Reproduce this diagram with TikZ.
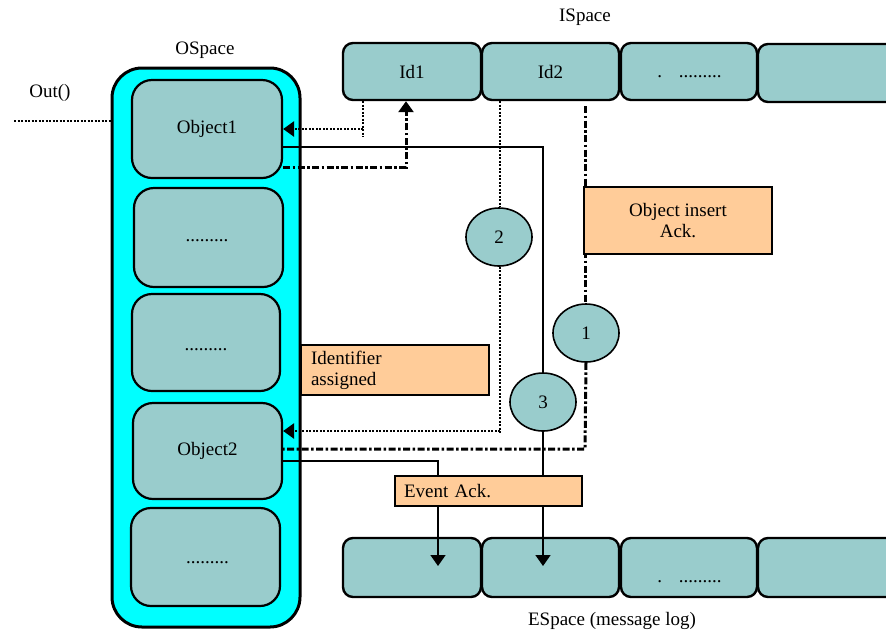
\documentclass[tikz,border=0pt]{standalone}
\usepackage{fontspec}
\setmainfont{Liberation Serif}
\usetikzlibrary{shapes.geometric,arrows.meta}
\definecolor{tealfill}{HTML}{99CCCC}
\definecolor{cyanfill}{HTML}{00FFFF}
\definecolor{orangefill}{HTML}{FFCC99}
\tikzset{
  every node/.style={font=\fontsize{19}{21}\selectfont},
  spacebox/.style={draw, line width=2.4pt, fill=tealfill, rounded corners=10pt, inner sep=0pt},
  objbox/.style={draw, line width=2.2pt, fill=tealfill, rounded corners=20pt, inner sep=0pt},
  numcirc/.style={ellipse, draw, line width=1.6pt, fill=tealfill, minimum width=66pt, minimum height=58pt, inner sep=0pt},
  notebox/.style={draw, line width=1.8pt, fill=orangefill, inner sep=0pt},
  lbl/.style={inner sep=0pt, anchor=base},
  dotl/.style={line width=2.6pt, dash pattern=on 2pt off 1.5pt},
  dashdotl/.style={line width=3pt, dash pattern=on 7pt off 2.5pt on 2.5pt off 2.5pt},
  conn/.style={line width=1.6pt},
  tipend/.style={-{Triangle[width=15pt,length=11pt]}},
}
\begin{document}
\begin{tikzpicture}[x=1pt,y=-1pt]
\useasboundingbox (0,0) rectangle (886,633);

% OSpace container
\node[draw, line width=3pt, fill=cyanfill, rounded corners=30pt, minimum width=188pt, minimum height=559pt, inner sep=0pt] (ospace) at (206,347.5) {};
\node[objbox, minimum width=150pt, minimum height=98pt] (obj1) at (207,129) {Object1};
\node[objbox, minimum width=149pt, minimum height=99pt] (box2) at (208.5,237.5) {};
\node[objbox, minimum width=148pt, minimum height=97pt] (box3) at (206,342.5) {};
\node[objbox, minimum width=149pt, minimum height=96pt] (obj2) at (207.5,451) {Object2};
\node[objbox, minimum width=149pt, minimum height=98pt] (box5) at (205.5,557) {};
\node[lbl] (d2) at (207,241) {.........};
\node[lbl] (d3) at (206,350) {.........};
\node[lbl] (d5) at (207.5,563) {.........};

\node[lbl] (oslbl) at (205,54) {OSpace};
\node[lbl] (outlbl) at (50,97) {Out()};
\coordinate (outL) at (14,121);
\draw[dotl] (outL) -- (outL -| ospace.west);

% ISpace
\node[lbl] (islbl) at (585,21) {ISpace};
\node[spacebox, minimum width=138pt, minimum height=57pt] (id1) at (412,71.5) {Id1};
\node[spacebox, minimum width=137pt, minimum height=57pt] (id2) at (550.5,71.5) {Id2};
\node[spacebox, minimum width=136pt, minimum height=57pt] (i3) at (689,71.5) {};
\node[spacebox, minimum width=142pt, minimum height=58pt] (i4) at (829,73) {};
\node[lbl] (i3d) at (689.5,77) {.\hspace{17pt}.........};

% ESpace
\node[spacebox, minimum width=138pt, minimum height=59pt] (e1) at (412,567.5) {};
\node[spacebox, minimum width=137pt, minimum height=59pt] (e2) at (550.5,567.5) {};
\node[spacebox, minimum width=136pt, minimum height=59pt] (e3) at (689,567.5) {};
\node[spacebox, minimum width=142pt, minimum height=59pt] (e4) at (829,567.5) {};
\node[lbl] (e3d) at (689.5,582) {.\hspace{17pt}.........};
\node[lbl] (eslbl) at (612,625) {ESpace (message log)};

% circles
\node[numcirc] (c2) at (499,237) {2};
\node[numcirc] (c1) at (586,333) {1};
\node[numcirc] (c3) at (543,402) {3};

% coordinates
\coordinate (p1) at (363,137);
\coordinate (p2) at (406,167);
\coordinate (p3) at (543,147);
\coordinate (p4) at (500,433);
\coordinate (p4b) at (500,431);
\coordinate (p5top) at (585,106);
\coordinate (p5) at (585,449);
\coordinate (p6) at (438,461);
\coordinate (t1) at (438,566);
\coordinate (t2) at (543,566);

% 1: Id1 -> Object1 (dotted)
\draw[dotl] (id1.south -| p1) -- (p1);
\draw[dotl, tipend] (p1 |- obj1.east) -- (obj1.east);
% 2: Object1 -> Id1 (dash-dot)
\draw[dashdotl, tipend] (obj1.east |- p2) -- (p2) -- (p2 |- id1.south);
% 3: Object1 -> circle 3 -> Event Ack -> ESpace
\draw[conn] (obj1.east |- p3) -- (p3) -- (c3.north);
% 4: Id2 -> circle 2 -> Object2 (dotted)
\draw[dotl] (id2.south -| p4) -- (p4 |- c2.north);
\draw[dotl] (p4 |- c2.south) -- (p4);
\draw[dotl, tipend] (p4b) -- (p4b -| obj2.east);
% 5: Id2 -> circle 1 -> Object2 (dash-dot)
\draw[dashdotl] (p5top) -- (p5top |- c1.north);
\draw[dashdotl] (c1.south) -- (p5) -- (p5 -| obj2.east);

% note boxes
\node[notebox, minimum width=188pt, minimum height=67pt, align=center] (oia) at (678,220.5) {Object insert\\Ack.};
\node[notebox, minimum width=188pt, minimum height=50pt, text width=168pt, align=left] (ida) at (395,370) {Identifier\\assigned};
\node[notebox, minimum width=187pt, minimum height=30pt, text width=169pt, align=left] (eack) at (488.5,491) {Event Ack.};

% 3 continued
\draw[conn] (c3.south) -- (c3.south |- eack.north);
\draw[conn, tipend] (c3.south |- eack.south) -- (t2);
% 6: Object2 -> Event Ack -> ESpace
\draw[conn] (obj2.east |- p6) -- (p6) -- (p6 |- eack.north);
\draw[conn, tipend] (p6 |- eack.south) -- (t1);
\end{tikzpicture}
\end{document}
